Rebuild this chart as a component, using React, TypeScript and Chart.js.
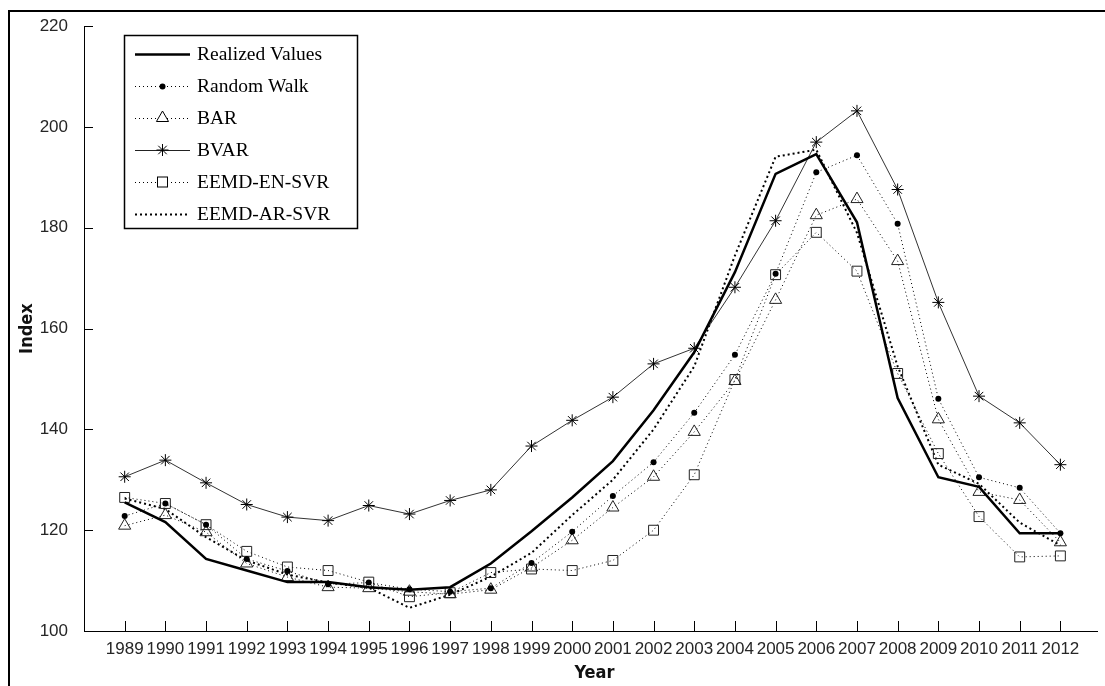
import React, { useEffect, useRef } from "react";
import { Chart, registerables } from "chart.js";

Chart.register(...registerables);

const YEARS = [1989, 1990, 1991, 1992, 1993, 1994, 1995, 1996, 1997, 1998, 1999, 2000, 2001, 2002, 2003, 2004, 2005, 2006, 2007, 2008, 2009, 2010, 2011, 2012];
const Y_TICKS = [100, 120, 140, 160, 180, 200, 220];

const REALIZED = [125.5, 121.6, 114.3, 112.0, 109.7, 109.7, 108.7, 108.2, 108.7, 113.4, 119.8, 126.5, 133.7, 143.8, 155.3, 171.2, 190.7, 194.6, 181.1, 146.2, 130.5, 128.6, 119.4, 119.4];
const RANDOM_WALK = [122.8, 125.3, 121.1, 114.3, 111.9, 109.3, 109.6, 108.3, 107.8, 108.5, 113.5, 119.7, 126.8, 133.5, 143.3, 154.8, 170.9, 191.0, 194.4, 180.8, 146.1, 130.5, 128.4, 119.4];
const BAR = [120.9, 123.0, 119.6, 113.4, 110.7, 108.7, 108.5, 107.8, 107.3, 108.2, 112.6, 118.0, 124.5, 130.6, 139.5, 149.6, 165.7, 182.5, 185.7, 173.4, 142.0, 127.6, 126.0, 117.6];
const BVAR = [130.6, 133.9, 129.4, 125.1, 122.6, 121.9, 124.9, 123.2, 125.9, 128.0, 136.7, 141.8, 146.4, 153.0, 156.1, 168.2, 181.4, 197.0, 203.2, 187.6, 165.2, 146.6, 141.3, 133.0];
const EEMD_EN_SVR = [126.5, 125.3, 121.1, 115.8, 112.7, 112.0, 109.7, 106.8, 107.6, 111.6, 112.3, 112.0, 114.0, 120.0, 131.0, 149.9, 170.7, 179.1, 171.4, 151.1, 135.2, 122.7, 114.7, 114.9];
const EEMD_AR_SVR = [126.3, 124.2, 118.6, 114.0, 111.2, 109.6, 108.6, 104.6, 107.2, 110.8, 115.5, 123.0, 130.0, 140.0, 152.5, 174.5, 194.1, 195.5, 179.0, 152.5, 133.0, 129.2, 121.5, 117.0];

const SERIES_NAMES = ["Realized Values", "Random Walk", "BAR", "BVAR", "EEMD-EN-SVR", "EEMD-AR-SVR"];

const toPts = (arr: number[]) => arr.map((v, i) => ({ x: YEARS[i], y: v }));

const TICK_FONT = { family: "'Liberation Sans', Arial, sans-serif", size: 17 };
const TITLE_FONT = "bold 18px 'Liberation Sans Narrow', 'DejaVu Sans Condensed', sans-serif";

const framePlugin = {
  id: "frame",
  beforeDraw(chart: any) {
    const ctx = chart.ctx;
    ctx.save();
    ctx.fillStyle = "#fff";
    ctx.fillRect(0, 0, chart.width, chart.height);
    ctx.restore();
  },
  afterDraw(chart: any) {
    const ctx = chart.ctx;
    const { left, top, bottom } = chart.chartArea;
    const xs = chart.scales.x;
    const ys = chart.scales.y;
    ctx.save();
    // outer frame
    ctx.strokeStyle = "#000";
    ctx.lineWidth = 2;
    ctx.beginPath();
    ctx.moveTo(9, chart.height);
    ctx.lineTo(9, 11);
    ctx.lineTo(chart.width, 11);
    ctx.stroke();

    // inward ticks
    ctx.lineWidth = 1;
    ctx.strokeStyle = "#000";
    ctx.beginPath();
    YEARS.forEach((yr) => {
      const px = Math.round(xs.getPixelForValue(yr)) + 0.5;
      ctx.moveTo(px, bottom);
      ctx.lineTo(px, bottom - 10);
    });
    Y_TICKS.forEach((v) => {
      if (v === 100) return;
      const py = Math.round(ys.getPixelForValue(v)) + 0.5;
      ctx.moveTo(left, py);
      ctx.lineTo(left + 9, py);
    });
    ctx.stroke();

    // axis titles
    ctx.fillStyle = "#111";
    ctx.font = TITLE_FONT;
    ctx.textAlign = "center";
    ctx.textBaseline = "middle";
    ctx.fillText("Year", (left + 1109) / 2 - 2, 673);
    ctx.save();
    ctx.translate(27, (top + bottom) / 2);
    ctx.rotate(-Math.PI / 2);
    ctx.fillText("Index", 0, 0);
    ctx.restore();

    // legend
    const bx = 124.5, by = 35.5, bw = 233, bh = 193;
    ctx.fillStyle = "#fff";
    ctx.fillRect(bx, by, bw, bh);
    ctx.strokeStyle = "#000";
    ctx.lineWidth = 1.5;
    ctx.strokeRect(bx, by, bw, bh);

    const x0 = 135, x1 = 190, xm = 162.5;
    SERIES_NAMES.forEach((name, i) => {
      const y = 54 + i * 32;
      ctx.save();
      ctx.strokeStyle = "#000";
      if (i === 0) {
        ctx.lineWidth = 2.5;
        ctx.setLineDash([]);
      } else if (i === 3) {
        ctx.lineWidth = 1;
        ctx.strokeStyle = "#222";
        ctx.setLineDash([]);
      } else if (i === 5) {
        ctx.lineWidth = 2;
        ctx.setLineDash([2, 3]);
      } else {
        ctx.lineWidth = 1;
        ctx.setLineDash([1, 3]);
      }
      ctx.beginPath();
      ctx.moveTo(x0, y + 0.5);
      ctx.lineTo(x1, y + 0.5);
      ctx.stroke();
      ctx.setLineDash([]);
      ctx.lineWidth = 1;
      ctx.strokeStyle = "#000";
      if (i === 1) {
        ctx.fillStyle = "#000";
        ctx.beginPath();
        ctx.arc(xm, y + 0.5, 3, 0, Math.PI * 2);
        ctx.fill();
      } else if (i === 2) {
        ctx.fillStyle = "#fff";
        const r = 7;
        ctx.beginPath();
        ctx.moveTo(xm, y - r);
        ctx.lineTo(xm + r * Math.sin(Math.PI / 3), y + r / 2);
        ctx.lineTo(xm - r * Math.sin(Math.PI / 3), y + r / 2);
        ctx.closePath();
        ctx.fill();
        ctx.stroke();
      } else if (i === 3) {
        const r = 6;
        ctx.beginPath();
        for (let k = 0; k < 4; k++) {
          const a = (k * Math.PI) / 4;
          ctx.moveTo(xm - r * Math.cos(a), y - r * Math.sin(a));
          ctx.lineTo(xm + r * Math.cos(a), y + r * Math.sin(a));
        }
        ctx.stroke();
      } else if (i === 4) {
        ctx.fillStyle = "#fff";
        const s = 5;
        ctx.fillRect(xm - s, y - s, 2 * s, 2 * s);
        ctx.strokeRect(xm - s, y - s, 2 * s, 2 * s);
      }
      ctx.restore();
      ctx.fillStyle = "#000";
      ctx.font = "19.5px 'Liberation Serif', 'Times New Roman', serif";
      ctx.textAlign = "left";
      ctx.textBaseline = "middle";
      ctx.fillText(name, 197, y + 1);
    });
    ctx.restore();
  },
};

export default function App() {
  const canvasRef = useRef<HTMLCanvasElement | null>(null);

  useEffect(() => {
    const canvas = canvasRef.current;
    if (!canvas) return;
    const chart = new Chart(canvas, {
      type: "line",
      data: {
        datasets: [
          {
            label: SERIES_NAMES[0],
            data: toPts(REALIZED),
            borderColor: "#000",
            borderWidth: 2.5,
            pointRadius: 0,
            tension: 0,
          },
          {
            label: SERIES_NAMES[1],
            data: toPts(RANDOM_WALK),
            borderColor: "#000",
            borderWidth: 1,
            borderDash: [1, 3],
            pointStyle: "circle",
            pointRadius: 3,
            pointBackgroundColor: "#000",
            pointBorderColor: "#000",
            pointBorderWidth: 0,
          },
          {
            label: SERIES_NAMES[2],
            data: toPts(BAR),
            borderColor: "#000",
            borderWidth: 1,
            borderDash: [1, 3],
            pointStyle: "triangle",
            pointRadius: 7,
            pointBackgroundColor: "rgba(0,0,0,0)",
            pointBorderColor: "#222",
            pointBorderWidth: 1,
          },
          {
            label: SERIES_NAMES[3],
            data: toPts(BVAR),
            borderColor: "#333",
            borderWidth: 1,
            pointStyle: "star",
            pointRadius: 6,
            pointBackgroundColor: "#000",
            pointBorderColor: "#000",
            pointBorderWidth: 1,
          },
          {
            label: SERIES_NAMES[4],
            data: toPts(EEMD_EN_SVR),
            borderColor: "#000",
            borderWidth: 1,
            borderDash: [1, 3],
            pointStyle: "rect",
            pointRadius: 7,
            pointBackgroundColor: "rgba(0,0,0,0)",
            pointBorderColor: "#222",
            pointBorderWidth: 1,
          },
          {
            label: SERIES_NAMES[5],
            data: toPts(EEMD_AR_SVR),
            borderColor: "#000",
            borderWidth: 2,
            borderDash: [2, 3],
            pointRadius: 0,
          },
        ],
      },
      options: {
        animation: false,
        responsive: false,
        devicePixelRatio: 1,
        layout: { padding: { top: 23, left: 0, right: 0, bottom: 0 } },
        plugins: {
          legend: { display: false },
          tooltip: { enabled: false },
        },
        elements: { line: { tension: 0 } },
        scales: {
          x: {
            type: "linear",
            min: 1988,
            max: 2012.9,
            afterBuildTicks: (s: any) => {
              s.ticks = YEARS.map((v) => ({ value: v }));
            },
            afterFit: (s: any) => {
              s.height = 55;
            },
            grid: { display: false, drawTicks: false },
            border: { display: true, color: "#000", width: 1 },
            ticks: {
              autoSkip: false,
              maxRotation: 0,
              minRotation: 0,
              padding: 8,
              color: "#262626",
              font: TICK_FONT,
              callback: (v: any) => String(v),
            },
          },
          y: {
            type: "linear",
            min: 100,
            max: 220,
            afterBuildTicks: (s: any) => {
              s.ticks = Y_TICKS.map((v) => ({ value: v }));
            },
            afterFit: (s: any) => {
              s.width = 84;
            },
            grid: { display: false, drawTicks: false },
            border: { display: true, color: "#000", width: 1 },
            ticks: {
              padding: 16,
              color: "#262626",
              font: TICK_FONT,
              callback: (v: any) => String(v),
            },
          },
        },
      },
      plugins: [framePlugin],
    });
    return () => chart.destroy();
  }, []);

  return (
    <div style={{ position: "absolute", left: 0, top: 0, width: 1105, height: 686, background: "#fff" }}>
      <canvas ref={canvasRef} width={1105} height={686} style={{ display: "block", width: 1105, height: 686 }} />
    </div>
  );
}
